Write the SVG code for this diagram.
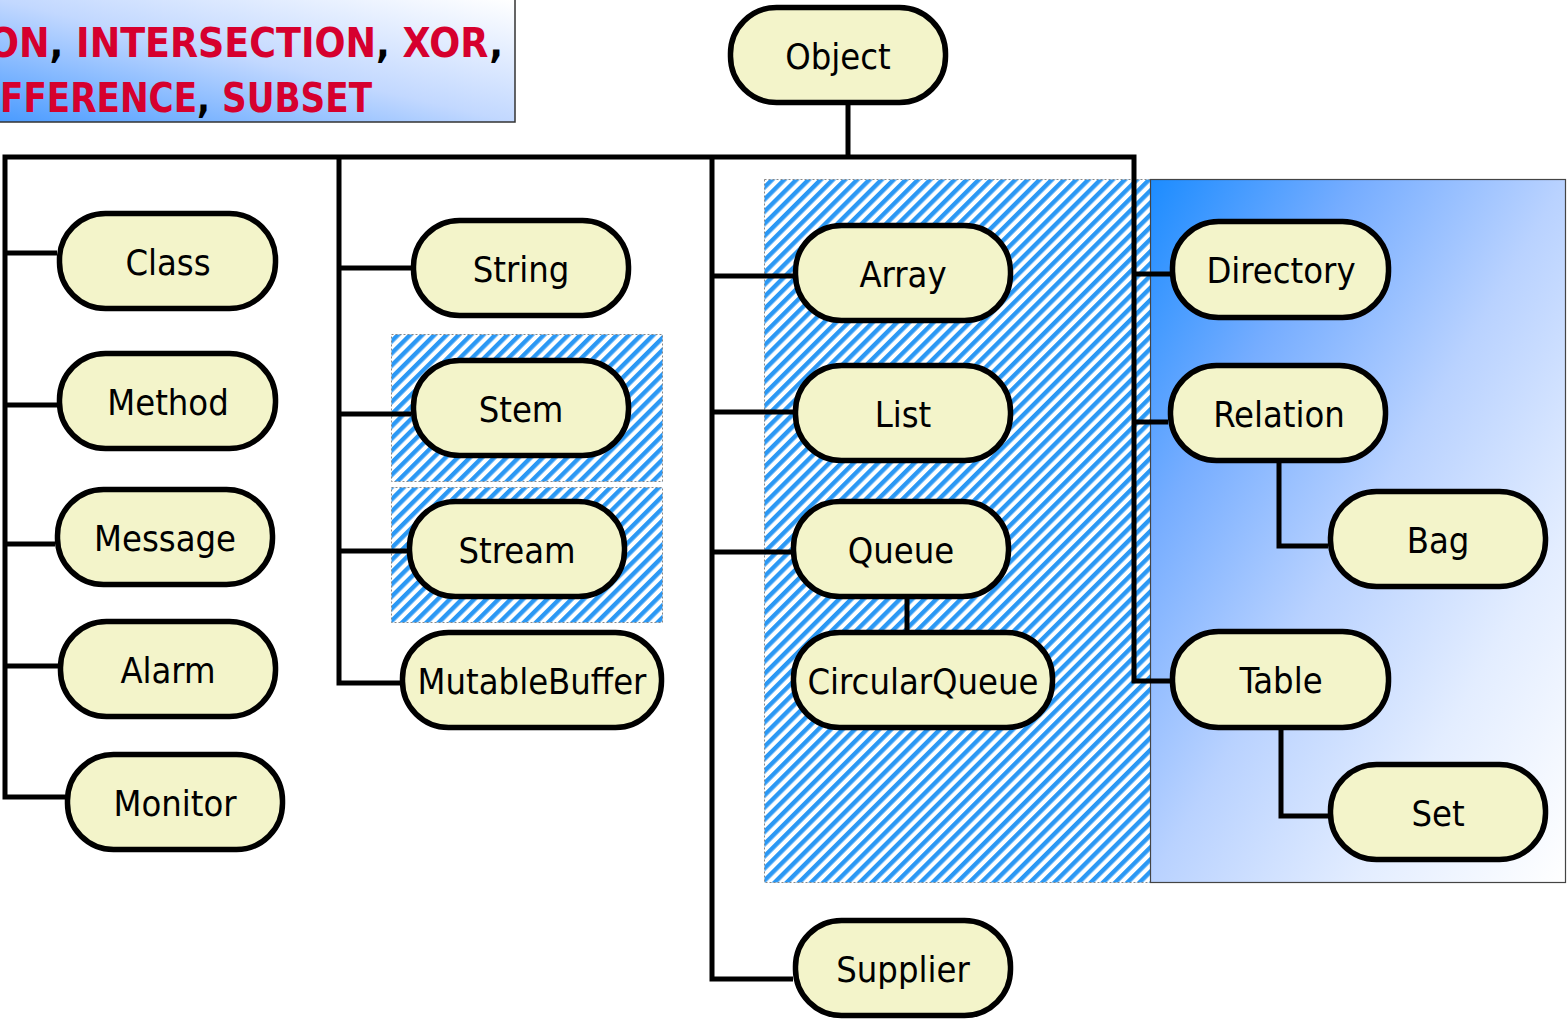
<svg xmlns="http://www.w3.org/2000/svg" width="1568" height="1021" viewBox="0 0 1568 1021">
<defs>
<pattern id="hatch" width="8.6" height="8.6" patternUnits="userSpaceOnUse" patternTransform="rotate(45)">
<rect width="8.6" height="8.6" fill="#ffffff"/>
<rect width="4.4" height="8.6" fill="#2b98f4"/>
</pattern>
<linearGradient id="gradR" x1="0" y1="0" x2="1" y2="1">
<stop offset="0" stop-color="#1c8cff"/>
<stop offset="0.25" stop-color="#76adff"/>
<stop offset="0.5" stop-color="#b9d2ff"/>
<stop offset="0.75" stop-color="#e3edff"/>
<stop offset="1" stop-color="#ffffff"/>
</linearGradient>
<linearGradient id="gradT" gradientUnits="userSpaceOnUse" x1="0" y1="122" x2="55" y2="-109">
<stop offset="0" stop-color="#4a9bff"/>
<stop offset="0.5" stop-color="#c2d8ff"/>
<stop offset="1" stop-color="#ffffff"/>
</linearGradient>
<style>
.node rect { fill:#f3f4ca; stroke:#000; stroke-width:5.5; }
.node text { font-family:"DejaVu Sans Condensed","Open Sans","DejaVu Sans",sans-serif; font-stretch:condensed; font-size:36px; fill:#000; text-anchor:middle; }
.conn path { fill:none; stroke:#000; stroke-width:5; stroke-linejoin:miter; stroke-linecap:butt; }
.hbox { fill:url(#hatch); stroke:#888; stroke-width:1; stroke-dasharray:2 2; }
.title { font-family:"DejaVu Sans",sans-serif; font-weight:bold; font-size:40px; fill:#d6002e; }
.blk { fill:#000; }
</style>
</defs>
<rect x="0" y="0" width="1568" height="1021" fill="#ffffff"/>

<g id="title-box">
<rect x="-2" y="-2" width="517" height="124" fill="url(#gradT)" stroke="#333" stroke-width="1.5"/>
<text class="title" x="-12" y="57" textLength="515" lengthAdjust="spacingAndGlyphs">ON<tspan class="blk">,</tspan> INTERSECTION<tspan class="blk">,</tspan> XOR<tspan class="blk">,</tspan></text>
<text class="title" x="0" y="112" textLength="372" lengthAdjust="spacingAndGlyphs">FFERENCE<tspan class="blk">,</tspan> SUBSET</text>
</g>

<g id="groups">
<rect class="hbox" x="391.5" y="334.5" width="271" height="147"/>
<rect class="hbox" x="391.5" y="487.5" width="271" height="135"/>
<rect class="hbox" x="764.5" y="179.5" width="386" height="703"/>
<rect x="1150.5" y="179.5" width="415" height="703" fill="url(#gradR)" stroke="#444" stroke-width="1.2"/>
</g>

<g id="connectors" class="conn">
<path d="M848 104 V157"/>
<path d="M1170 681 H1134 V157 H5 V797 H65"/>
<path d="M5 253 H57 M5 405 H57 M5 544 H55 M5 666 H58"/>
<path d="M339 157 V683 H400 M339 268 H411 M339 414 H411 M339 551 H407"/>
<path d="M712 157 V979 H793 M712 276 H793 M712 412 H793 M712 552 H791"/>
<path d="M907 599 V630"/>
<path d="M1134 274 H1170 M1134 422 H1168"/>
<path d="M1279 463 V546 H1328"/>
<path d="M1281 730 V816 H1328"/>
</g>

<g id="node-object" class="node"><rect x="730.5" y="7.5" width="215" height="95" rx="46" ry="46"/><text x="838" y="69">Object</text></g>
<g id="node-class" class="node"><rect x="59.5" y="213.5" width="216" height="95" rx="46" ry="46"/><text x="168" y="275">Class</text></g>
<g id="node-method" class="node"><rect x="59.5" y="353.5" width="216" height="95" rx="46" ry="46"/><text x="168" y="415">Method</text></g>
<g id="node-message" class="node"><rect x="57.5" y="489.5" width="215" height="95" rx="46" ry="46"/><text x="165" y="551">Message</text></g>
<g id="node-alarm" class="node"><rect x="60.5" y="621.5" width="215" height="95" rx="46" ry="46"/><text x="168" y="683">Alarm</text></g>
<g id="node-monitor" class="node"><rect x="67.5" y="754.5" width="215" height="95" rx="46" ry="46"/><text x="175" y="816">Monitor</text></g>

<g id="node-string" class="node"><rect x="413.5" y="220.5" width="215" height="95" rx="46" ry="46"/><text x="521" y="282">String</text></g>
<g id="node-stem" class="node"><rect x="413.5" y="360.5" width="215" height="95" rx="46" ry="46"/><text x="521" y="422">Stem</text></g>
<g id="node-stream" class="node"><rect x="409.5" y="501.5" width="215" height="95" rx="46" ry="46"/><text x="517" y="563">Stream</text></g>
<g id="node-mutablebuffer" class="node"><rect x="402.5" y="632.5" width="259" height="95" rx="46" ry="46"/><text x="532" y="694">MutableBuffer</text></g>

<g id="node-array" class="node"><rect x="795.5" y="225.5" width="215" height="95" rx="46" ry="46"/><text x="903" y="287">Array</text></g>
<g id="node-list" class="node"><rect x="795.5" y="365.5" width="215" height="95" rx="46" ry="46"/><text x="903" y="427">List</text></g>
<g id="node-queue" class="node"><rect x="793.5" y="501.5" width="215" height="95" rx="46" ry="46"/><text x="901" y="563">Queue</text></g>
<g id="node-circularqueue" class="node"><rect x="793.5" y="632.5" width="259" height="95" rx="46" ry="46"/><text x="923" y="694">CircularQueue</text></g>
<g id="node-supplier" class="node"><rect x="795.5" y="920.5" width="215" height="95" rx="46" ry="46"/><text x="903" y="982">Supplier</text></g>

<g id="node-directory" class="node"><rect x="1172.5" y="221.5" width="216" height="96" rx="46" ry="46"/><text x="1281" y="283">Directory</text></g>
<g id="node-relation" class="node"><rect x="1170.5" y="365.5" width="215" height="95" rx="46" ry="46"/><text x="1279" y="427">Relation</text></g>
<g id="node-bag" class="node"><rect x="1330.5" y="491.5" width="215" height="95" rx="46" ry="46"/><text x="1438" y="553">Bag</text></g>
<g id="node-table" class="node"><rect x="1172.5" y="631.5" width="216" height="96" rx="46" ry="46"/><text x="1281" y="693">Table</text></g>
<g id="node-set" class="node"><rect x="1330.5" y="764.5" width="215" height="95" rx="46" ry="46"/><text x="1438" y="826">Set</text></g>
</svg>
